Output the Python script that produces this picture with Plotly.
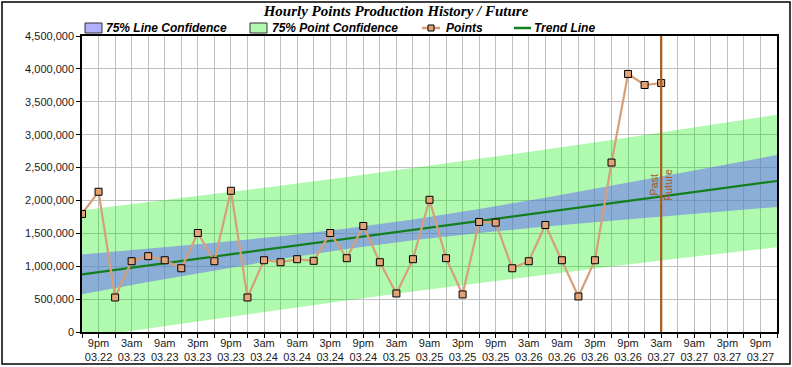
import pandas as pd
import plotly.graph_objects as go

# ---- data ----
start = pd.Timestamp("2014-03-22 18:00")
point_values = [1795000, 2132000, 525000, 1076000, 1153000, 1091000, 969000, 1505000,
                1076000, 2147000, 525000, 1091000, 1061000, 1107000, 1082000, 1505000,
                1122000, 1612000, 1061000, 586000, 1107000, 2010000, 1122000, 571000,
                1673000, 1663000, 969000, 1076000, 1627000, 1091000, 540000, 1091000,
                2576000, 3923000, 3755000, 3785000]
point_times = pd.date_range(start, periods=len(point_values), freq="3h")

trend_hours = [0, 126]
trend_values = [877000, 2296000]

band_hours = [0, 12, 24, 36, 48, 60, 72, 84, 96, 108, 120, 126]
line_conf_top = [1179000, 1265000, 1356000, 1456000, 1574000, 1712000, 1870000, 2042000, 2223000, 2408000, 2597000, 2691000]
line_conf_bot = [575000, 759000, 938000, 1108000, 1262000, 1394000, 1506000, 1604000, 1693000, 1778000, 1861000, 1901000]
point_conf_top = [1850000, 1971000, 2095000, 2223000, 2356000, 2492000, 2631000, 2774000, 2920000, 3070000, 3224000, 3302000]
point_conf_bot = [-96000, 53000, 199000, 341000, 480000, 614000, 745000, 872000, 996000, 1116000, 1234000, 1290000]

tick_hours = [3 + 6 * k for k in range(21)]
tick_text = ["9pm<br>03.22", "3am<br>03.23", "9am<br>03.23", "3pm<br>03.23", "9pm<br>03.23",
             "3am<br>03.24", "9am<br>03.24", "3pm<br>03.24", "9pm<br>03.24",
             "3am<br>03.25", "9am<br>03.25", "3pm<br>03.25", "9pm<br>03.25",
             "3am<br>03.26", "9am<br>03.26", "3pm<br>03.26", "9pm<br>03.26",
             "3am<br>03.27", "9am<br>03.27", "3pm<br>03.27", "9pm<br>03.27"]
divider_hour = 105  # 3am 03.27 : Past / Future
legend_names = ["75% Line Confidence", "75% Point Confidence", "Points", "Trend Line"]

# ---- styles ----
C_LINECONF = "rgba(100,98,252,0.5)"
C_POINTCONF = "rgba(0,240,0,0.31)"
C_TREND = "#127F1C"
C_POINTS = "#D69F78"
C_MARKER = "#E2A376"
C_DIV = "#A65A1C"

def t(h):
    return start + pd.Timedelta(hours=h)

band_t = [t(h) for h in band_hours]
band_t_rev = band_t[::-1]

fig = go.Figure()

fig.add_trace(go.Scatter(
    x=band_t + band_t_rev, y=point_conf_top + point_conf_bot[::-1],
    fill="toself", fillcolor=C_POINTCONF, line=dict(width=0),
    mode="lines", name=legend_names[1], showlegend=False, hoverinfo="skip"))
fig.add_trace(go.Scatter(
    x=band_t + band_t_rev, y=line_conf_top + line_conf_bot[::-1],
    fill="toself", fillcolor=C_LINECONF, line=dict(width=0),
    mode="lines", name=legend_names[0], showlegend=False, hoverinfo="skip"))
fig.add_trace(go.Scatter(
    x=[t(h) for h in trend_hours], y=trend_values, mode="lines",
    line=dict(color=C_TREND, width=2.2), name=legend_names[3], showlegend=False))
fig.add_trace(go.Scatter(
    x=point_times, y=point_values, mode="lines+markers",
    line=dict(color=C_POINTS, width=2.2),
    marker=dict(symbol="square", size=7, color=C_MARKER, line=dict(color="black", width=1)),
    name=legend_names[2], showlegend=False))

div_x = t(divider_hour)
fig.add_shape(type="line", x0=div_x, x1=div_x, y0=0, y1=1, yref="paper",
              line=dict(color=C_DIV, width=2.2), layer="above")
fig.add_annotation(x=div_x, y=2240000, text="Past", textangle=-90, showarrow=False,
                   xshift=-8, font=dict(family="Liberation Sans, Arial", size=11, color=C_DIV))
fig.add_annotation(x=div_x, y=2240000, text="Future", textangle=-90, showarrow=False,
                   xshift=6, font=dict(family="Liberation Sans, Arial", size=11, color=C_DIV))

# pixel -> paper helpers (plot area: x 82..777, y 36..332)
L, R, T, B = 82, 777, 36, 332
def px(v):
    return (v - L) / (R - L)
def py(v):
    return (B - v) / (B - T)

# outer border
fig.add_shape(type="rect", xref="paper", yref="paper",
              x0=px(2), x1=px(790), y0=py(364), y1=py(2),
              line=dict(color="black", width=1.5), fillcolor="rgba(0,0,0,0)", layer="above")

# legend drawn manually (boxes / line symbols + real text)
leg_font = dict(family="Liberation Sans, Arial", size=12, color="black", weight="bold", style="italic")
ly = 28
fig.add_shape(type="rect", xref="paper", yref="paper", x0=px(85), x1=px(102), y0=py(33), y1=py(23),
              fillcolor=C_LINECONF, line=dict(color="#333333", width=1))
fig.add_shape(type="rect", xref="paper", yref="paper", x0=px(250), x1=px(267), y0=py(33), y1=py(23),
              fillcolor=C_POINTCONF, line=dict(color="#333333", width=1))
fig.add_shape(type="line", xref="paper", yref="paper", x0=px(422), x1=px(440), y0=py(ly), y1=py(ly),
              line=dict(color=C_POINTS, width=2.5))
fig.add_shape(type="rect", xref="paper", yref="paper", x0=px(428), x1=px(434), y0=py(31), y1=py(25),
              fillcolor=C_MARKER, line=dict(color="black", width=1))
fig.add_shape(type="line", xref="paper", yref="paper", x0=px(514), x1=px(531), y0=py(ly), y1=py(ly),
              line=dict(color=C_TREND, width=2.5))
for name, xpos in zip(legend_names, [105, 271, 445, 533]):
    fig.add_annotation(xref="paper", yref="paper", x=px(xpos), y=py(ly), text=name,
                       showarrow=False, xanchor="left", yanchor="middle", font=leg_font,
                       borderpad=0)

axis_font = dict(family="Liberation Sans, Arial", size=11, color="#1a1a1a")
fig.update_xaxes(
    range=[t(0), t(126)], tickmode="array", tickvals=[t(h) for h in tick_hours], ticktext=tick_text,
    ticks="outside", ticklen=4, tickcolor="black", showline=True, linecolor="black", linewidth=1.5,
    mirror=True, showgrid=True, gridcolor="#C0C0C0", gridwidth=1, tickfont=axis_font,
    ticklabelstandoff=-4,
    minor=dict(dtick=3 * 3600 * 1000, tick0=t(0), ticks="outside", ticklen=4, tickcolor="black",
               showgrid=True, gridcolor="#C0C0C0"),
    zeroline=False, automargin=False)
fig.update_yaxes(
    range=[0, 4500000], dtick=500000, tickformat=",d", ticks="outside", ticklen=4, tickcolor="black",
    showline=True, linecolor="black", linewidth=1.5, mirror=True, showgrid=True, gridcolor="#C0C0C0",
    tickfont=axis_font, zeroline=False, automargin=False)

fig.update_layout(
    width=792, height=367, margin=dict(l=L, r=792 - R, t=T, b=367 - B, autoexpand=False),
    paper_bgcolor="white", plot_bgcolor="white",
    title=dict(text="Hourly Points Production History / Future", x=0.5, xanchor="center",
               xref="container", yref="container",
               y=1 - 10.5 / 367, yanchor="middle",
               font=dict(family="Liberation Serif, Times New Roman", size=15, color="black",
                         weight="bold", style="italic")),
    showlegend=False,
)

fig.write_html("out.html", config={"displayModeBar": False},
               post_script="document.body.style.margin='0px';")
